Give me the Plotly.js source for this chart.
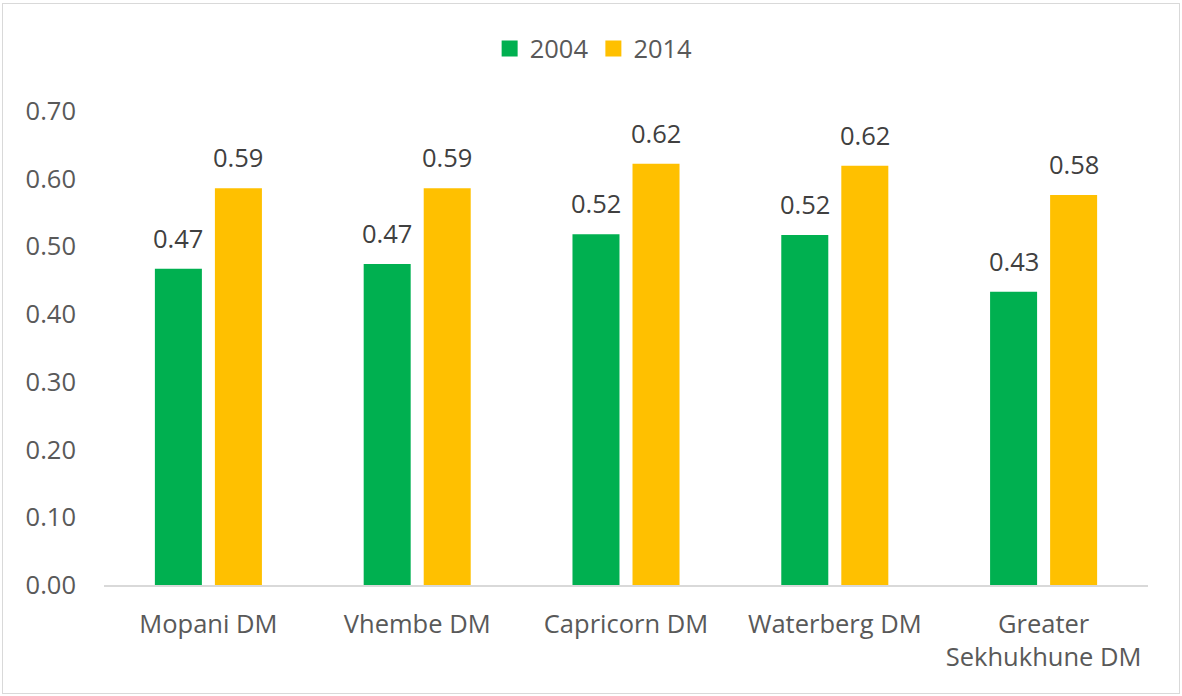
<!DOCTYPE html>
<html>
<head>
<meta charset="utf-8">
<script src="https://cdn.plot.ly/plotly-3.0.1.min.js"></script>
<style>
  html, body { margin: 0; padding: 0; background: #ffffff; }
  #chart { position: absolute; left: 0; top: 0; width: 1182px; height: 696px; }
  #frame { position: absolute; left: 2px; top: 3px; width: 1176px; height: 689px;
           border: 1.5px solid #d9d9d9; pointer-events: none; }
</style>
</head>
<body>
<div id="chart"></div>
<div id="frame"></div>
<script>
const categories = ['Mopani DM', 'Vhembe DM', 'Capricorn DM', 'Waterberg DM', 'Greater<br>Sekhukhune DM'];
const seriesNames = ['2004', '2014'];
const values2004 = [0.467, 0.474, 0.518, 0.517, 0.433];
const values2014 = [0.586, 0.586, 0.622, 0.619, 0.576];
const yTicks = [0, 0.1, 0.2, 0.3, 0.4, 0.5, 0.6, 0.7];

const FONT = '"Open Sans", "DejaVu Sans", sans-serif';
const FS = 25.5;
const TXT = '#595959';
const colors = ['#00B050', '#FFC000'];
const allValues = [values2004, values2014];

const traces = [];
allValues.forEach((vals, i) => {
  traces.push({
    type: 'bar',
    name: seriesNames[i],
    x: categories,
    y: vals,
    marker: { color: colors[i] },
    showlegend: false,
    hoverinfo: 'skip'
  });
});
// legend entries (square markers)
allValues.forEach((vals, i) => {
  traces.push({
    type: 'scatter',
    mode: 'markers',
    name: seriesNames[i],
    x: [null], y: [null],
    marker: { symbol: 'square', size: 16, color: colors[i] },
    showlegend: true,
    hoverinfo: 'skip'
  });
});

const annotations = [];
allValues.forEach((vals, i) => {
  vals.forEach((v, j) => {
    annotations.push({
      x: categories[j], y: v, xref: 'x', yref: 'y',
      text: (Math.round(v * 100) / 100).toFixed(2),
      showarrow: false,
      xanchor: 'center', yanchor: 'bottom',
      xshift: i === 0 ? -30 : 30,
      yshift: 12,
      font: { family: FONT, size: FS, color: '#404040' }
    });
  });
});

const layout = {
  width: 1182, height: 696,
  margin: { l: 104, r: 34, t: 111, b: 111 },
  paper_bgcolor: '#ffffff', plot_bgcolor: '#ffffff',
  font: { family: FONT, size: FS, color: TXT },
  barmode: 'group',
  bargap: 0.425,
  bargroupgap: 0.217,
  showlegend: true,
  legend: {
    orientation: 'h', x: 0.469, xanchor: 'center', y: 1.131, yanchor: 'middle',
    font: { family: FONT, size: FS, color: TXT },
    traceorder: 'normal',
    itemsizing: 'trace'
  },
  xaxis: {
    type: 'category',
    showgrid: false, zeroline: false,
    showline: true, linecolor: '#d9d9d9', linewidth: 1.5,
    ticks: '', ticklabelstandoff: 16,
    tickfont: { family: FONT, size: FS, color: TXT }
  },
  yaxis: {
    range: [0, 0.7],
    tickvals: yTicks,
    tickformat: '.2f',
    showgrid: false, zeroline: false, showline: false,
    ticks: '', ticklabelstandoff: 27,
    tickfont: { family: FONT, size: FS, color: TXT }
  },
  annotations: annotations
};

Plotly.newPlot('chart', traces, layout, { displayModeBar: false, staticPlot: true });
</script>
</body>
</html>
